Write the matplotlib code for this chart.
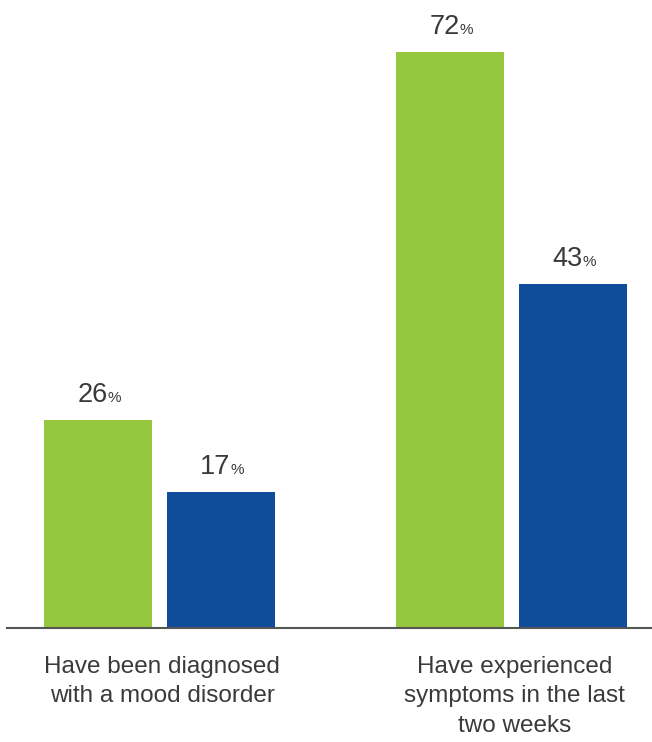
import matplotlib.pyplot as plt
import numpy as np

plt.rcParams['font.family'] = ['Liberation Sans', 'DejaVu Sans']

categories = ['Have been diagnosed\nwith a mood disorder',
              'Have experienced\nsymptoms in the last\ntwo weeks']
green_vals = [26, 72]
blue_vals = [17, 43]

green = '#96c83f'
blue = '#0f4c9a'
text_col = '#3a3a3a'

fig = plt.figure(figsize=(6.52, 7.42), dpi=100)
ax = fig.add_axes([7 / 652, 114 / 742, 645 / 652, 628 / 742])

x = np.arange(len(categories))
w = 0.307
off = 0.1747
ax.bar(x - off, green_vals, w, color=green)
ax.bar(x + off, blue_vals, w, color=blue)

ax.set_xlim(-0.4332, 1.399)
ax.set_ylim(0, 78.5)

for xs, vals in [(x - off, green_vals), (x + off, blue_vals)]:
    for xi, v in zip(xs, vals):
        ax.annotate(str(v), xy=(xi, v), xytext=(7, 13), textcoords='offset points',
                    ha='right', va='baseline', fontsize=19.5, color=text_col)
        ax.annotate('%', xy=(xi, v), xytext=(7, 13), textcoords='offset points',
                    ha='left', va='baseline', fontsize=11, color=text_col)

for xi, lab in zip(x, categories):
    ax.annotate(lab, xy=(xi, 0), xytext=(2, -20), textcoords='offset points',
                ha='center', va='top', fontsize=17.5, color=text_col, linespacing=1.45)

for s in ['top', 'right', 'left']:
    ax.spines[s].set_visible(False)
ax.spines['bottom'].set_color('#555555')
ax.spines['bottom'].set_linewidth(1.5)
ax.set_xticks([])
ax.set_yticks([])

fig.savefig('out.png', dpi=100)
